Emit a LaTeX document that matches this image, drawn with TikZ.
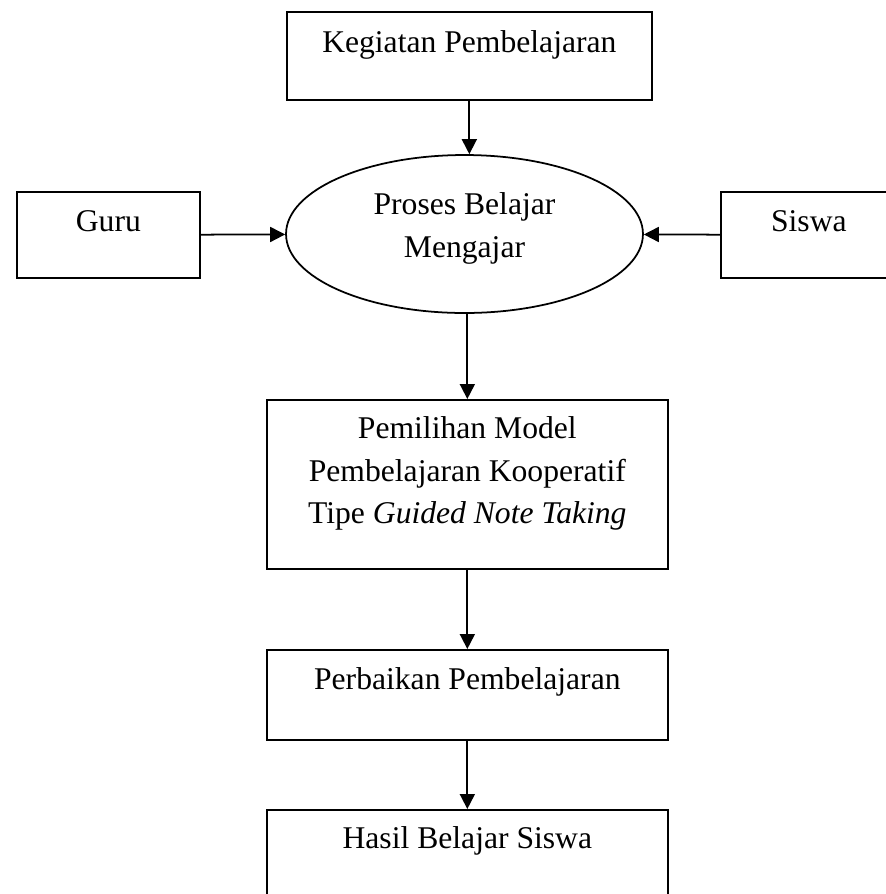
\documentclass[tikz,border=0pt]{standalone}
\usepackage{fontspec}
\setmainfont{Liberation Serif}
\usetikzlibrary{arrows.meta,shapes.geometric,positioning}

\tikzset{
  kotak/.style={draw, line width=1pt, rectangle, inner xsep=0pt, inner ysep=0pt,
    anchor=north west, align=center, font=\fontsize{18}{24.2}\selectfont},
  elips/.style={draw, line width=1pt, ellipse, inner sep=0pt, align=center,
    font=\fontsize{18}{24.2}\selectfont},
  panah/.style={line width=1pt, -{Triangle[length=0.3cm,width=0.3cm]}}
}

\begin{document}
\begin{tikzpicture}[x=0.02cm, y=-0.02cm]
    % Page frame, same size as the scanned figure
    \useasboundingbox (0,0) rectangle (886,894);
    \clip (0,0) rectangle (886,894);

    % Top row
    \node[kotak, minimum width=7.3cm, text height=0.82cm, text depth=0.94cm] (keg) at (286,11) {Kegiatan Pembelajaran};

    % Middle row: Guru -> PBM <- Siswa
    \node[elips, minimum width=7.14cm, minimum height=3.16cm, text height=1.3cm, text depth=0.38cm] (pbm) at (464.5,234) {Proses Belajar\\Mengajar};
    \node[kotak, minimum width=3.66cm, text height=0.8cm, text depth=0.92cm] (guru) at (16,191) {Guru};
    \node[kotak, minimum width=3.52cm, text height=0.8cm, text depth=0.92cm] (siswa) at (720,191) {Siswa};

    % Lower column
    \node[kotak, minimum width=8.02cm, text height=2.48cm, text depth=0.9cm] (pem) at (266,399) {Pemilihan Model\\Pembelajaran Kooperatif\\Tipe \textit{Guided Note Taking}};
    \node[kotak, minimum width=8.02cm, text height=0.8cm, text depth=1.0cm] (per) at (266,649) {Perbaikan Pembelajaran};
    \node[kotak, minimum width=8.02cm, text height=0.78cm, text depth=1.3cm] (has) at (266,809) {Hasil Belajar Siswa};

    % Arrows
    \draw[panah] (keg.south) -- (keg.south |- pbm.north);
    \draw[panah] (guru) -- (pbm);
    \draw[panah] (siswa) -- (pbm);
    \draw[panah] (pbm.south -| pem.north) -- (pem.north);
    \draw[panah] (pem) -- (per);
    \draw[panah] (per) -- (has);
\end{tikzpicture}
\end{document}
